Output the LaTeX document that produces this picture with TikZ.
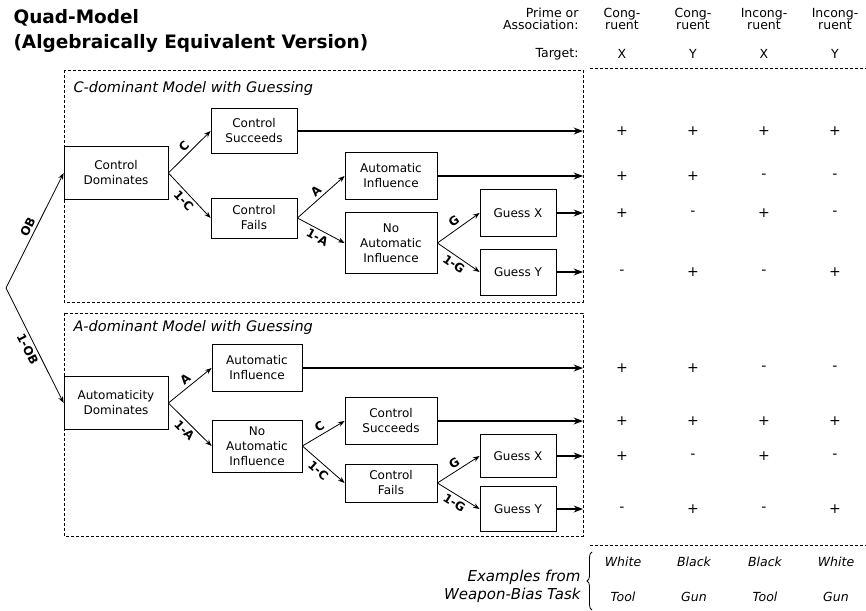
\documentclass[tikz,border=0pt]{standalone}
\usepackage{fontspec}
\setmainfont{DejaVu Sans}
\usetikzlibrary{arrows.meta,decorations.pathreplacing}

\begin{document}
\begin{tikzpicture}
  [
    x = 1pt, y = -1pt,
    box/.style = {draw,thick,align=center,inner sep=0pt,font=\fontsize{12}{15}\selectfont},
    panel/.style = {draw,densely dashed,thick},
    panel title/.style = {anchor=west,font=\fontsize{14.5}{17}\selectfont\itshape},
    branch/.style = {->,thick},
    outcome/.style = {->,line width=1.4pt},
    prob/.style = {sloped,midway,inner sep=3pt,font=\fontsize{12}{14}\selectfont\bfseries},
    head/.style = {align=center,font=\fontsize{12.5}{12.5}\selectfont},
    sign/.style = {font=\fontsize{14}{14}\selectfont},
    example/.style = {font=\fontsize{12.5}{14}\selectfont\itshape},
    > = Stealth,
  ]

  \useasboundingbox (0,0) rectangle (866,610);

  \node[anchor=west,align=left,font=\fontsize{18.5}{25}\selectfont\bfseries] (title) at (10,31) {Quad-Model\\(Algebraically Equivalent Version)};

  \node[head,anchor=east,align=right] (prime) at (582,19) {Prime or\\Association:};
  \node[head] (h1) at (622,19) {Cong-\\ruent};
  \node[head] (h2) at (693,19) {Cong-\\ruent};
  \node[head] (h3) at (764,19) {Incong-\\ruent};
  \node[head] (h4) at (835,19) {Incong-\\ruent};
  \node[head,anchor=east] (target) at (582,54) {Target:};
  \node[head] (t1) at (622,54) {X};
  \node[head] (t2) at (693,54) {Y};
  \node[head] (t3) at (764,54) {X};
  \node[head] (t4) at (835,54) {Y};
  \draw[panel] (590,68) -- (866,68);

  \coordinate (root) at (6,288);
  \coordinate (edge) at (583,0);

  \draw[panel] (64,70) rectangle (583,302);
  \node[panel title] (ctitle) at (70,88) {C-dominant Model with Guessing};
  \node[box,minimum width=104pt,minimum height=53pt] (cdom)    at (116,173) {Control\\Dominates};
  \node[box,minimum width=86pt,minimum height=45pt]  (csucc)   at (254,131) {Control\\Succeeds};
  \node[box,minimum width=86pt,minimum height=40pt]  (cfail)   at (254,218) {Control\\Fails};
  \node[box,minimum width=92pt,minimum height=47pt]  (cauto)   at (391,176) {Automatic\\Influence};
  \node[box,minimum width=92pt,minimum height=61pt]  (cnoauto) at (391,243) {No\\Automatic\\Influence};
  \node[box,minimum width=76pt,minimum height=47pt]  (cgx)     at (518,213) {Guess X};
  \node[box,minimum width=76pt,minimum height=46pt]  (cgy)     at (518,272) {Guess Y};

  \draw[branch] (root) -- node[prob,above] {OB} (cdom.west);
  \draw[branch] (cdom.east) -- node[prob,above] {C} (csucc.west);
  \draw[branch] (cdom.east) -- node[prob,below] {1-C} (cfail.west);
  \draw[branch] (cfail.east) -- node[prob,above] {A} (cauto.west);
  \draw[branch] (cfail.east) -- node[prob,below] {1-A} (cnoauto.west);
  \draw[branch] (cnoauto.east) -- node[prob,above] {G} (cgx.west);
  \draw[branch] (cnoauto.east) -- node[prob,below] {1-G} (cgy.west);
  \draw[outcome] (csucc) -- (csucc -| edge);
  \draw[outcome] (cauto) -- (cauto -| edge);
  \draw[outcome] (cgx) -- (cgx -| edge);
  \draw[outcome] (cgy) -- (cgy -| edge);

  \draw[panel] (64,313) rectangle (583,536);
  \node[panel title] (atitle) at (70,327) {A-dominant Model with Guessing};
  \node[box,minimum width=104pt,minimum height=53pt] (adom)    at (116,403) {Automaticity\\Dominates};
  \node[box,minimum width=90pt,minimum height=47pt]  (aauto)   at (257,368) {Automatic\\Influence};
  \node[box,minimum width=90pt,minimum height=52pt]  (anoauto) at (257,446) {No\\Automatic\\Influence};
  \node[box,minimum width=92pt,minimum height=47pt]  (asucc)   at (391,421) {Control\\Succeeds};
  \node[box,minimum width=92pt,minimum height=38pt]  (afail)   at (391,483) {Control\\Fails};
  \node[box,minimum width=76pt,minimum height=43pt]  (agx)     at (518,456) {Guess X};
  \node[box,minimum width=76pt,minimum height=45pt]  (agy)     at (518,509) {Guess Y};

  \draw[branch] (root) -- node[prob,below] {1-OB} (adom.west);
  \draw[branch] (adom.east) -- node[prob,above] {A} (aauto.west);
  \draw[branch] (adom.east) -- node[prob,below] {1-A} (anoauto.west);
  \draw[branch] (anoauto.east) -- node[prob,above] {C} (asucc.west);
  \draw[branch] (anoauto.east) -- node[prob,below] {1-C} (afail.west);
  \draw[branch] (afail.east) -- node[prob,above] {G} (agx.west);
  \draw[branch] (afail.east) -- node[prob,below] {1-G} (agy.west);
  \draw[outcome] (aauto) -- (aauto -| edge);
  \draw[outcome] (asucc) -- (asucc -| edge);
  \draw[outcome] (agx) -- (agx -| edge);
  \draw[outcome] (agy) -- (agy -| edge);

  \foreach \s [count=\c] in {+,+,+,+} \node[sign] (c1-\c) at ({551+71*\c},131) {\s};
  \foreach \s [count=\c] in {+,+,-,-} \node[sign] (c2-\c) at ({551+71*\c},176) {\s};
  \foreach \s [count=\c] in {+,-,+,-} \node[sign] (c3-\c) at ({551+71*\c},213) {\s};
  \foreach \s [count=\c] in {-,+,-,+} \node[sign] (c4-\c) at ({551+71*\c},272) {\s};
  \foreach \s [count=\c] in {+,+,-,-} \node[sign] (a1-\c) at ({551+71*\c},368) {\s};
  \foreach \s [count=\c] in {+,+,+,+} \node[sign] (a2-\c) at ({551+71*\c},421) {\s};
  \foreach \s [count=\c] in {+,-,+,-} \node[sign] (a3-\c) at ({551+71*\c},456) {\s};
  \foreach \s [count=\c] in {-,+,-,+} \node[sign] (a4-\c) at ({551+71*\c},509) {\s};

  \draw[panel] (590,545) -- (866,545);
  \draw[thick,decorate,decoration={brace,amplitude=5pt}] (592,610) -- (592,552);
  \node[anchor=east,align=right,font=\fontsize{15}{18}\selectfont\itshape] (examples) at (584,586) {Examples from\\Weapon-Bias Task};
  \foreach \w [count=\c] in {White,Black,Black,White} \node[example] (w\c) at ({552+71*\c},562) {\w};
  \foreach \w [count=\c] in {Tool,Gun,Tool,Gun} \node[example] (o\c) at ({552+71*\c},597) {\w};

\end{tikzpicture}
\end{document}
